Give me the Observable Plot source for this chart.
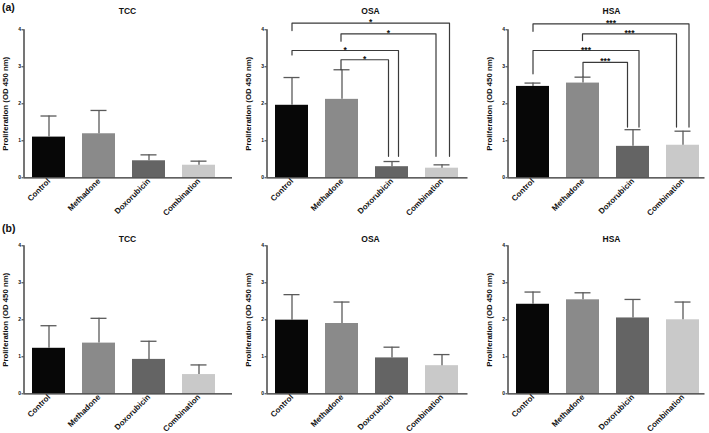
<!DOCTYPE html>
<html>
<head>
<meta charset="utf-8">
<script src="https://cdn.jsdelivr.net/npm/d3@7"></script>
<script src="https://cdn.jsdelivr.net/npm/@observablehq/plot@0.6"></script>
<style>
  html, body { margin: 0; padding: 0; background: #fff; overflow: hidden; }
  #fig { position: relative; width: 709px; height: 433px; background: #fff; overflow: hidden;
         font-family: "Liberation Sans", Arial, Helvetica, sans-serif; }
  .tag { position: absolute; font-weight: bold; font-size: 10.5px; color: #111; }
</style>
</head>
<body>
<div id="fig"></div>
<script>
// ---------- data ----------
const categories = ["Control", "Methadone", "Doxorubicin", "Combination"];
const barColors = ["#070707", "#8a8a8a", "#646464", "#c9c9c9"];
const yTicks = [0, 1, 2, 3, 4];
const yLabel = "Proliferation (OD 450 nm)";
const panelTitles = ["TCC", "OSA", "HSA"];
const rowTags = ["(a)", "(b)"];

// row (a)
const tccA_mean = [1.10, 1.19, 0.46, 0.34];
const tccA_sd   = [0.57, 0.63, 0.16, 0.11];
const osaA_mean = [1.96, 2.12, 0.30, 0.26];
const osaA_sd   = [0.75, 0.80, 0.14, 0.09];
const hsaA_mean = [2.47, 2.56, 0.85, 0.88];
const hsaA_sd   = [0.09, 0.16, 0.45, 0.38];
// row (b)
const tccB_mean = [1.23, 1.37, 0.93, 0.52];
const tccB_sd   = [0.61, 0.67, 0.49, 0.26];
const osaB_mean = [1.99, 1.90, 0.97, 0.76];
const osaB_sd   = [0.69, 0.58, 0.29, 0.30];
const hsaB_mean = [2.42, 2.54, 2.05, 2.00];
const hsaB_sd   = [0.33, 0.19, 0.50, 0.48];

// significance brackets (row a), in category-index / value units
const osaBr_start = [0, 0.98, 0, 0.98];
const osaBr_end   = [3.15, 2.88, 2.13, 1.93];
const osaBr_level = [4.18, 3.89, 3.44, 3.19];
const osaBr_left  = [3.98, 3.69, 3.32, 2.92];
const osaBr_right = [0.58, 0.58, 0.58, 0.58];
const osaBr_text  = ["*", "*", "*", "*"];

const hsaBr_start = [0, 0.99, 0, 1.0];
const hsaBr_end   = [3.12, 2.87, 2.12, 1.89];
const hsaBr_level = [4.16, 3.89, 3.44, 3.12];
const hsaBr_left  = [3.96, 3.71, 2.81, 2.74];
const hsaBr_right = [1.37, 1.37, 1.37, 1.37];
const hsaBr_text  = ["***", "***", "***", "***"];

// ---------- layout ----------
const panels = [
  {row: 0, col: 0, title: panelTitles[0], mean: tccA_mean, sd: tccA_sd, xEnd: 3.67},
  {row: 0, col: 1, title: panelTitles[1], mean: osaA_mean, sd: osaA_sd, xEnd: 3.52,
   br: {start: osaBr_start, end: osaBr_end, level: osaBr_level, left: osaBr_left, right: osaBr_right, text: osaBr_text}},
  {row: 0, col: 2, title: panelTitles[2], mean: hsaA_mean, sd: hsaA_sd, xEnd: 3.44,
   br: {start: hsaBr_start, end: hsaBr_end, level: hsaBr_level, left: hsaBr_left, right: hsaBr_right, text: hsaBr_text}},
  {row: 1, col: 0, title: panelTitles[0], mean: tccB_mean, sd: tccB_sd, xEnd: 3.67},
  {row: 1, col: 1, title: panelTitles[1], mean: osaB_mean, sd: osaB_sd, xEnd: 3.52},
  {row: 1, col: 2, title: panelTitles[2], mean: hsaB_mean, sd: hsaB_sd, xEnd: 3.44}
];
const colLeft = [0, 242.5, 483.5];
const rowTop = [0, 216];
const titleDy = [-22, -10];
const M_LEFT = 23.5, M_TOP = 29.3, PLOT_H = 216, M_BOTTOM = 216 - 177.3, STEP = 50;
const axisColor = "#2b2b2b", errColor = "#5a5a5a", brColor = "#3a3a3a";
const FONT = "'Liberation Sans', Arial, Helvetica, sans-serif";

const fig = document.getElementById("fig");

for (const p of panels) {
  const data = categories.map((c, i) => ({i, cat: c, mean: p.mean[i], sd: p.sd[i], color: barColors[i]}));
  const innerW = STEP * (p.xEnd + 0.5);
  const width = M_LEFT + innerW + 4;

  const marks = [
    Plot.rect(data, {x1: d => d.i - 0.33, x2: d => d.i + 0.33, y1: 0, y2: "mean", fill: "color"}),
    Plot.ruleX(data, {x: "i", y1: "mean", y2: d => d.mean + d.sd, stroke: errColor, strokeWidth: 1.3}),
    Plot.ruleY(data, {y: d => d.mean + d.sd, x1: d => d.i - 0.16, x2: d => d.i + 0.16, stroke: errColor, strokeWidth: 1.3}),
    Plot.ruleX([-0.5], {y1: 0, y2: 4, stroke: axisColor, strokeWidth: 1.3}),
    Plot.ruleY([0], {x1: -0.5, x2: p.xEnd, stroke: axisColor, strokeWidth: 1.3}),
    Plot.axisY({ticks: yTicks, tickSize: 2, tickPadding: 1, fontSize: 5, fontWeight: "bold",
                stroke: axisColor, fill: "#111", label: null, tickFormat: d => String(d)}),
    Plot.axisX({ticks: [0, 1, 2, 3], tickFormat: i => categories[i], tickRotate: -45, tickSize: 0,
                tickPadding: 2, fontSize: 8, fontWeight: "bold", fill: "#111", label: null}),
    Plot.text([{x: 1.57, t: p.title}], {x: "x", frameAnchor: "top", text: "t", dy: titleDy[p.row],
               fontSize: 8.5, fontWeight: "bold", fill: "#111"}),
    Plot.text([yLabel], {frameAnchor: "left", rotate: -90, textAnchor: "middle", lineAnchor: "middle",
               dx: -18.5, fontSize: 7.8, fontWeight: "bold", fill: "#111"})
  ];

  if (p.br) {
    const b = p.br;
    const pts = [];
    const labels = [];
    b.start.forEach((s, k) => {
      pts.push({k, x: s, y: b.left[k]}, {k, x: s, y: b.level[k]},
               {k, x: b.end[k], y: b.level[k]}, {k, x: b.end[k], y: b.right[k]});
      labels.push({x: (s + b.end[k]) / 2, y: b.level[k], t: b.text[k]});
    });
    marks.push(Plot.line(pts, {x: "x", y: "y", z: "k", stroke: brColor, strokeWidth: 1.2, curve: "linear"}));
    marks.push(Plot.text(labels, {x: "x", y: "y", text: "t", lineAnchor: "bottom", dy: 2,
                                  fontSize: 8.5, fontWeight: "bold", fill: "#111"}));
  }

  const svg = Plot.plot({
    width, height: PLOT_H,
    marginLeft: M_LEFT, marginRight: 4, marginTop: M_TOP, marginBottom: M_BOTTOM,
    x: {type: "linear", domain: [-0.5, p.xEnd]},
    y: {domain: [0, 4]},
    style: {fontFamily: FONT, background: "transparent", overflow: "visible", color: "#111"},
    marks
  });
  svg.style.position = "absolute";
  svg.style.left = colLeft[p.col] + "px";
  svg.style.top = rowTop[p.row] + "px";
  fig.appendChild(svg);
}

rowTags.forEach((t, r) => {
  const d = document.createElement("div");
  d.className = "tag";
  d.textContent = t;
  d.style.left = "2px";
  d.style.top = (r === 0 ? 1 : 222) + "px";
  fig.appendChild(d);
});
</script>
</body>
</html>
